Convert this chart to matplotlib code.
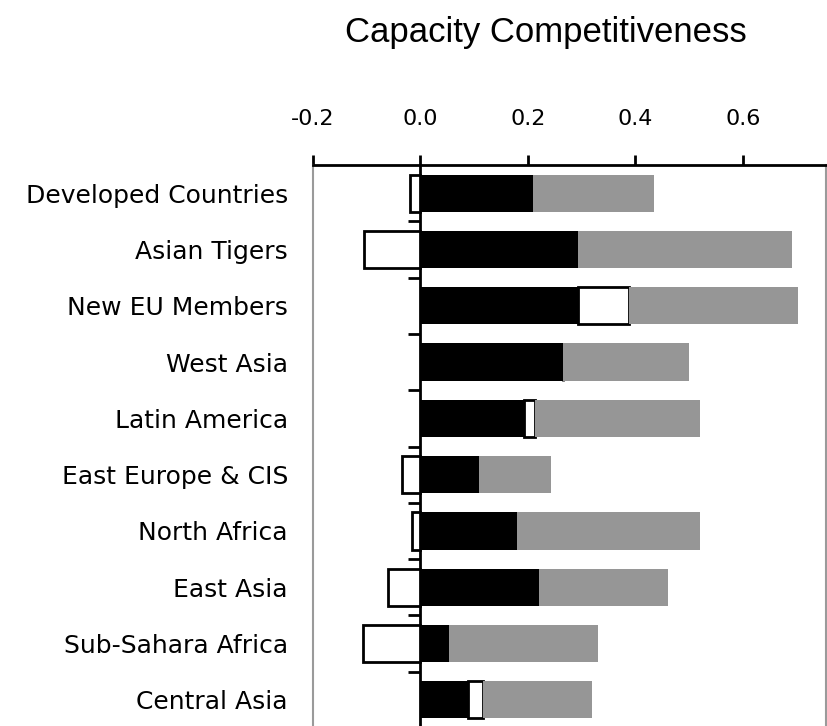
import matplotlib.pyplot as plt
import numpy as np

regions = ["Developed Countries", "Asian Tigers", "New EU Members", "West Asia",
           "Latin America", "East Europe & CIS", "North Africa", "East Asia",
           "Sub-Sahara Africa", "Central Asia"]
black_part = [0.209, 0.293, 0.293, 0.265, 0.193, 0.109, 0.180, 0.220, 0.053, 0.088]
white_part = [-0.020, -0.105, 0.095, 0.0, 0.020, -0.034, -0.016, -0.060, -0.107, 0.028]
gray_part = [0.225, 0.398, 0.314, 0.235, 0.307, 0.134, 0.340, 0.240, 0.277, 0.203]
x_ticks = [-0.2, 0.0, 0.2, 0.4, 0.6]
x_min, x_max = -0.2, 0.755

fig = plt.figure(figsize=(8.28, 7.26), dpi=100)
ax = fig.add_axes([313 / 828, -2 / 726, 513 / 828, 563 / 726])

y = np.arange(len(regions))
h = 0.66
pos_base = np.zeros(len(regions))
neg_base = np.zeros(len(regions))
series = [(black_part, dict(color="black", edgecolor="none")),
          (white_part, dict(color="white", edgecolor="black", linewidth=2)),
          (gray_part, dict(color="#969696", edgecolor="none"))]
for vals, style in series:
    vals = np.array(vals)
    left = np.where(vals >= 0, pos_base, neg_base)
    ax.barh(y, vals, left=left, height=h, zorder=2, **style)
    pos_base = pos_base + np.clip(vals, 0, None)
    neg_base = neg_base + np.clip(vals, None, 0)

ax.set_xlim(x_min, x_max)
ax.set_ylim(len(regions) - 0.5, -0.5)

ax.xaxis.tick_top()
ax.set_xticks(x_ticks)
ax.set_xticklabels(["%.1f" % v for v in x_ticks], fontsize=16)
ax.tick_params(axis="x", direction="out", length=7, width=2, pad=19)

ax.set_yticks(y)
ax.set_yticklabels(regions, fontsize=18)
ax.tick_params(axis="y", length=0, pad=18)

for side in ["left", "right", "bottom"]:
    ax.spines[side].set_color("#9a9a9a")
    ax.spines[side].set_linewidth(1.5)
ax.spines["top"].set_linewidth(2)

# category axis crossing at zero, with tick marks between categories
zero_loc = (0 - x_min) / (x_max - x_min)
sec = ax.secondary_yaxis(zero_loc)
sec.set_yticks(np.arange(len(regions) - 1) + 0.5)
sec.set_yticklabels([])
sec.tick_params(direction="out", length=9, width=2)
sec.spines["left"].set_linewidth(2)

fig.text(546 / 828, 1 - 42 / 726, "Capacity Competitiveness", ha="center",
         va="baseline", fontsize=25, family=["Liberation Sans", "DejaVu Sans"])

fig.savefig("out.png", dpi=100)
